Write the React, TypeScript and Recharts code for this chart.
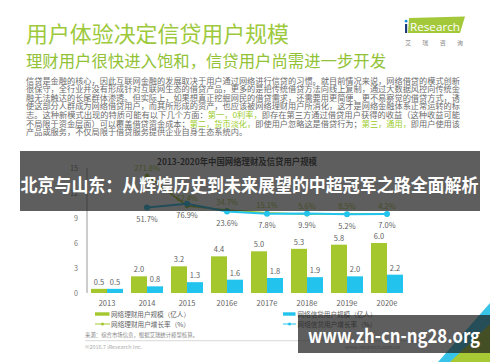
import React from 'react';
import { ComposedChart, Bar, Line, XAxis, YAxis, LabelList } from 'recharts';

const years = ['2013', '2014', '2015', '2016e', '2017e', '2018e', '2019e', '2020e'];
const wealthUsers = [0.5, 2.0, 3.2, 4.4, 5.0, 5.3, 5.8, 6.0];
const creditUsers = [0.5, 0.8, 1.3, 1.6, 1.8, 1.9, 2.0, 2.2];
const wealthGrowth: (number | null)[] = [null, 271.8, 62.4, 34.7, 15.1, 5.6, 8.5, 4.2];
const creditGrowth: (number | null)[] = [null, 51.7, 76.9, 23.6, 7.8, 9.9, 5.2, 7.0];
const leftTicks = [0, 3, 6, 9, 12, 15];

const seriesNames = ['网络理财用户规模（亿人）', '网络信贷用户规模（亿人）', '网络理财用户增长率（%）', '网络信贷用户增长率（%）'];

const mainTitle = '用户体验决定信贷用户规模';
const subTitle = '理财用户很快进入饱和，信贷用户尚需进一步开发';
const chartTitle = '2013-2020年中国网络理财及信贷用户规模';
const bannerText = '北京与山东：从辉煌历史到未来展望的中超冠军之路全面解析';
const urlText = 'www.zh-cn-ng28.org';

// paragraph lines: [text, highlighted]
const paragraph: [string, boolean][][] = [
  [['信贷是金融的核心，因此互联网金融的发展取决于用户通过网络进行信贷的习惯。就目前情况来说，网络借贷的模式创新', false]],
  [['很保守，全行业并没有形成针对互联网生态的借贷产品，更多的是把传统借贷方法向线上复制，通过大数据风控向传统金', false]],
  [['融无法触达的长尾群体渗透。但实际上，如果想真正挖掘网民的借贷需求，还需要用更简便、更不易察觉的借贷方式，诱', false]],
  [['使这部分人群成为网络借贷用户，而其所形成的资产，也应该被网络理财用户所消化，这才是网络金融体系正常运转的标', false]],
  [['志。这种新模式出现的特质可能有以下几个方面：', false], ['第一，0利率，', true], ['即存在第三方通过借贷用户获得的收益（这种收益可能', false]],
  [['不局限于资金层面）可以覆盖借贷资金成本；', false], ['第二，货币淡化，', true], ['即使用户忽略这是借贷行为；', false], ['第三，通用，', true], ['即用户使用该', false]],
  [['产品或服务，不仅局限于借贷服务提供企业自身生态系统内。', false]],
];

const data = years.map((y, i) => ({
  year: y,
  wealth: wealthUsers[i],
  credit: creditUsers[i],
  wg: wealthGrowth[i],
  cg: creditGrowth[i],
}));

const GREEN = '#a3c72d';
const BLUE = '#22c3ec';
const GREEN_TXT = '#9dc93c';
const GRAY = '#5f5f5f';
const PARA = '#6b6b6b';
const CJK = '"Noto Sans CJK SC", "Noto Sans", sans-serif';
const OVERLAY = 'rgba(32,32,32,0.72)';

const pct = (v: any) => (v == null ? '' : `${Number(v).toFixed(1)}%`);
const one = (v: any) => (v == null ? '' : Number(v).toFixed(1));

export default function App() {
  return (
    <div style={{ position: 'absolute', left: 0, top: 0, width: 500, height: 362, background: '#fff', overflow: 'hidden', fontFamily: CJK }}>
      {/* slide background layer */}
      <svg width={500} height={362} style={{ position: 'absolute', left: 0, top: 0 }}>
        <text x={26} y={41.5} fontSize={22} fill={GREEN_TXT} fontFamily={CJK} textLength={263} lengthAdjust="spacingAndGlyphs">{mainTitle}</text>
        <text x={26} y={67} fontSize={16.4} fill="#92c236" fontFamily={CJK} textLength={360} lengthAdjust="spacingAndGlyphs">{subTitle}</text>
        {/* logo */}
        <polygon points="409,18 465,16.5 460,33 408,33" fill="#a3c93a" />
        <rect x={405} y={24} width={2.2} height={9} fill="#1b3c7a" />
        <circle cx={406.1} cy={21.2} r={1.4} fill="#1b8fd6" />
        <text x={410} y={30.5} fontSize={11} fill="#fff" fontFamily='"Open Sans", sans-serif' textLength={50} lengthAdjust="spacingAndGlyphs">Research</text>
        <text x={405} y={45} fontSize={6} fill="#888" fontFamily={CJK} textLength={58} lengthAdjust="spacing">艾瑞咨询</text>
        {/* paragraph */}
        {paragraph.map((segs, i) => (
          <text key={i} x={26} y={83.8 + i * 8.55} fontSize={8.2} fill={PARA} fontFamily={CJK}
            {...(i < 6 ? { textLength: 434, lengthAdjust: 'spacingAndGlyphs' } : {})}>
            {segs.map(([t, hl], j) => (
              <tspan key={j} fill={hl ? '#9ccc2a' : PARA}>{t}</tspan>
            ))}
          </text>
        ))}
        {/* chart title */}
        <text x={237} y={165} fontSize={8.6} fontWeight="bold" fill="#333" textAnchor="middle" fontFamily={CJK} textLength={160} lengthAdjust="spacingAndGlyphs">{chartTitle}</text>
        {/* legend */}
        <rect x={95} y={312.3} width={14.5} height={3.4} fill={GREEN} />
        <text x={111} y={316.6} fontSize={6.7} fill={GRAY} fontFamily={CJK} textLength={79} lengthAdjust="spacingAndGlyphs">{seriesNames[0]}</text>
        <rect x={283} y={312.3} width={12.5} height={3.4} fill={BLUE} />
        <text x={297.5} y={316.6} fontSize={6.7} fill={GRAY} fontFamily={CJK} textLength={79} lengthAdjust="spacingAndGlyphs">{seriesNames[1]}</text>
        <line x1={95} x2={110} y1={324} y2={324} stroke={GREEN} strokeWidth={1} />
        <circle cx={102.5} cy={324} r={1.5} fill={GREEN} />
        <text x={111} y={326.6} fontSize={6.7} fill={GRAY} fontFamily={CJK} textLength={79} lengthAdjust="spacingAndGlyphs">{seriesNames[2]}</text>
        <line x1={283} x2={296} y1={324} y2={324} stroke={BLUE} strokeWidth={1} />
        <circle cx={289.5} cy={324} r={1.5} fill={BLUE} />
        <text x={297.5} y={326.6} fontSize={6.7} fill={GRAY} fontFamily={CJK} textLength={79} lengthAdjust="spacingAndGlyphs">{seriesNames[3]}</text>
        {/* source & footer */}
        <text x={85} y={337} fontSize={5.4} fill="#888" fontFamily={CJK} textLength={113} lengthAdjust="spacingAndGlyphs">来源：综合市场信息，根据艾瑞统计模型核算。</text>
        <line x1={85} x2={462} y1={340.7} y2={340.7} stroke="#c8c8c8" strokeWidth={0.7} />
        <text x={85} y={349} fontSize={5} fill="#aaa" fontFamily={CJK} textLength={57} lengthAdjust="spacingAndGlyphs">©2016.7 iResearch Inc.</text>
        <text x={345} y={349} fontSize={5} fill="#aaa" fontFamily={CJK} textLength={55} lengthAdjust="spacingAndGlyphs">www.iresearch.com.cn</text>
        <text x={476} y={353} fontSize={7} fill="#999" fontFamily={CJK}>11</text>
        {/* corner decoration */}
        <polygon points="490,303 490,362 438,362" fill="#38c4e8" />
        <polygon points="450,362 490,324 490,362" fill="#a6c934" />
      </svg>

      <div style={{ position: 'absolute', left: 0, top: 0 }}>
        <ComposedChart width={500} height={362} data={data} margin={{ top: 168, right: 93, bottom: 39, left: 47 }} barGap={0}>
          <XAxis dataKey="year" height={30} axisLine={false} tickLine={false} tickSize={6} tickMargin={2}
            tick={{ fontSize: 7.5, fill: GRAY, fontFamily: CJK }} interval={0} />
          <YAxis yAxisId="left" width={40} domain={[0, 15]} ticks={leftTicks} interval={0}
            axisLine={{ stroke: '#9a9a9a', strokeWidth: 1 }} tickLine={false} tickSize={4} tickMargin={5}
            tick={{ fontSize: 7.2, fill: '#777', fontFamily: CJK }} />
          <YAxis yAxisId="right" orientation="right" hide domain={[-540, 325]} />
          <Bar yAxisId="left" dataKey="wealth" fill={GREEN} barSize={16} isAnimationActive={false}>
            <LabelList dataKey="wealth" position="top" offset={4} formatter={one} style={{ fontSize: 7.5, fill: GRAY, fontFamily: CJK }} />
          </Bar>
          <Bar yAxisId="left" dataKey="credit" fill={BLUE} barSize={16} isAnimationActive={false}>
            <LabelList dataKey="credit" position="top" offset={4} formatter={one} style={{ fontSize: 7.5, fill: GRAY, fontFamily: CJK }} />
          </Bar>
          <Line yAxisId="right" dataKey="wg" stroke={GREEN} strokeWidth={1.5} dot={{ r: 2.3, fill: GREEN, stroke: GREEN, strokeWidth: 0 }} isAnimationActive={false}>
            <LabelList dataKey="wg" position="top" offset={5} formatter={pct} style={{ fontSize: 7.5, fill: '#9fc52e', fontFamily: CJK }} />
          </Line>
          <Line yAxisId="right" dataKey="cg" stroke={BLUE} strokeWidth={2} dot={{ r: 3, fill: BLUE, stroke: BLUE, strokeWidth: 0 }} isAnimationActive={false}>
            <LabelList dataKey="cg" position="bottom" offset={9} formatter={pct} style={{ fontSize: 7.5, fill: GRAY, fontFamily: CJK }} />
          </Line>
        </ComposedChart>
      </div>

      {/* overlays */}
      <svg width={500} height={362} style={{ position: 'absolute', left: 0, top: 0, pointerEvents: 'none' }}>
        <rect x={20} y={151} width={460} height={60} fill={OVERLAY} />
        <text x={20.5} y={192} fontSize={18} fontWeight="bold" fill="#fff" fontFamily={CJK} textLength={458} lengthAdjust="spacingAndGlyphs">{bannerText}</text>
        <rect x={298} y={315} width={192} height={38} fill={OVERLAY} />
        <text x={308} y={343} fontSize={19.5} fontWeight="bold" fill="#fff" fontFamily={CJK} textLength={172} lengthAdjust="spacingAndGlyphs">{urlText}</text>
      </svg>
    </div>
  );
}
